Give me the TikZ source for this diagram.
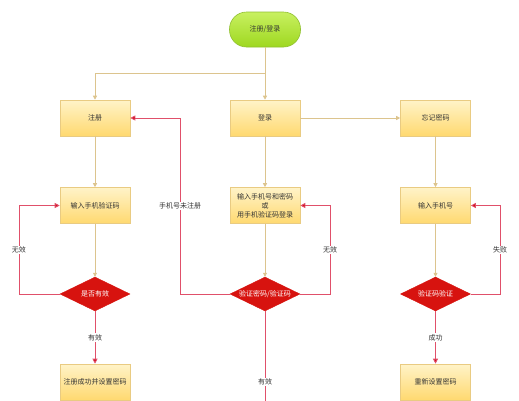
\documentclass[tikz,border=0pt]{standalone}
\usepackage{fontspec}
\newfontfamily\cjk{Noto Sans CJK SC}
\usetikzlibrary{arrows.meta,shapes.geometric}
\definecolor{lineTan}{HTML}{DCC48E}
\definecolor{lineRed}{HTML}{E0506A}
\definecolor{tipRed}{HTML}{D0101E}
\definecolor{boxTop}{HTML}{FFF3C8}
\definecolor{boxBot}{HTML}{FFD970}
\definecolor{boxEdge}{HTML}{E9CB82}
\definecolor{decRed}{HTML}{D7130F}
\definecolor{startTop}{HTML}{C8F060}
\definecolor{startBot}{HTML}{9ED820}
\definecolor{startEdge}{HTML}{90C030}
\definecolor{txtGray}{HTML}{333333}
\begin{document}
\begin{tikzpicture}[x=1pt,y=-1pt,
  font=\cjk\fontsize{7}{9}\selectfont, text=txtGray,
  proc/.style={rectangle, draw=boxEdge, line width=0.6pt, top color=boxTop, bottom color=boxBot,
    minimum width=70pt, minimum height=36pt, inner sep=1pt, align=center},
  dec/.style={diamond, draw=decRed, fill=decRed, text=white, minimum width=70pt,
    minimum height=34pt, inner sep=0pt},
  startbox/.style={rectangle, rounded corners=17pt, draw=startEdge, line width=0.6pt,
    top color=startTop, bottom color=startBot, minimum width=71pt, minimum height=35pt},
  tanarrow/.style={draw=lineTan, line width=0.7pt, -{Triangle[width=4pt,length=4pt,fill=lineTan]}},
  redarrow/.style={draw=lineRed, line width=0.8pt, -{Triangle[width=5pt,length=5pt,fill=tipRed]}},
  redline/.style={draw=lineRed, line width=0.8pt},
  lbl/.style={fill=white, inner sep=1pt, text=txtGray}]
\useasboundingbox (0,0) rectangle (519,400);
\begin{scope}
\clip (0,0) rectangle (519,400);
% nodes
\node[startbox] (start) at (265,29.5) {注册/登录};
\node[proc] (reg) at (95,118) {注册};
\node[proc] (login) at (265,118) {登录};
\node[proc] (forgot) at (435.5,118) {忘记密码};
\node[proc] (in1) at (95,205.5) {输入手机验证码};
\node[proc] (in2) at (265,205.5) {输入手机号和密码\\或\\用手机验证码登录};
\node[proc] (in3) at (435.5,205.5) {输入手机号};
\node[dec] (d1) at (95,294) {\makebox[0pt]{是否有效}};
\node[dec] (d2) at (265,294) {\makebox[0pt]{验证密码/验证码}};
\node[dec] (d3) at (435.5,294) {\makebox[0pt]{验证码验证}};
\node[proc] (ok1) at (95,382) {注册成功并设置密码};
\node[proc] (ok3) at (435.5,382) {重新设置密码};
% helper coordinates
\coordinate (j) at (265,73);
\coordinate (l1) at (19,294);
\coordinate (l2) at (180,294);
\coordinate (r2) at (330,294);
\coordinate (r3) at (500,294);
\coordinate (endd) at (265,405);
% tan connectors
\draw[tanarrow] (start.south) -- (login.north);
\draw[tanarrow] (j) -| (reg.north);
\draw[tanarrow] (login) -- (forgot);
\draw[tanarrow] (reg) -- (in1);
\draw[tanarrow] (in1) -- (d1);
\draw[tanarrow] (login) -- (in2);
\draw[tanarrow] (in2) -- (d2);
\draw[tanarrow] (forgot) -- (in3);
\draw[tanarrow] (in3) -- (d3);
% red connectors
\draw[redarrow] (d1.west) -- (l1) |- node[lbl,pos=0.25]{无效} (in1.west);
\draw[redarrow] (d2.west) -- (l2) |- node[lbl,pos=0.25]{手机号未注册} (reg.east);
\draw[redarrow] (d2.east) -- (r2) |- node[lbl,pos=0.25]{无效} (in2.east);
\draw[redarrow] (d3.east) -- (r3) |- node[lbl,pos=0.25]{失败} (in3.east);
\draw[redarrow] (d1.south) -- node[lbl]{有效} (ok1.north);
\draw[redarrow] (d3.south) -- node[lbl]{成功} (ok3.north);
\draw[redline] (d2.south) -- node[lbl,pos=0.755]{有效} (endd);
\end{scope}
\end{tikzpicture}
\end{document}
